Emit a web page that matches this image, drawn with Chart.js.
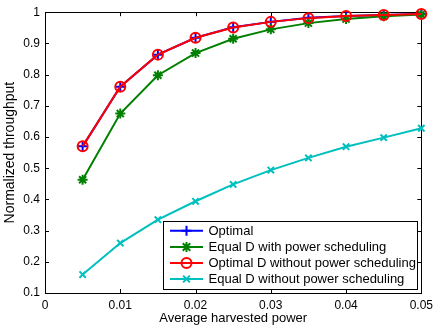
<!DOCTYPE html>
<html><head><meta charset="utf-8">
<script src="https://cdn.jsdelivr.net/npm/chart.js@4"></script>
<style>html,body{margin:0;padding:0;background:#fff}</style>
</head><body>
<canvas id="c" width="438" height="327"></canvas>
<script>
const xValues = [0.005, 0.01, 0.015, 0.02, 0.025, 0.03, 0.035, 0.04, 0.045, 0.05];
const optimal = [0.570, 0.761, 0.864, 0.918, 0.952, 0.969, 0.982, 0.988, 0.991, 0.994];
const equalDWithPS = [0.463, 0.675, 0.798, 0.869, 0.915, 0.945, 0.965, 0.978, 0.987, 0.993];
const optimalDWithoutPS = [0.570, 0.761, 0.864, 0.918, 0.951, 0.969, 0.981, 0.988, 0.991, 0.994];
const equalDWithoutPS = [0.159, 0.260, 0.335, 0.394, 0.448, 0.494, 0.533, 0.569, 0.598, 0.628];
const xTicks = [0, 0.01, 0.02, 0.03, 0.04, 0.05];
const xTickLabels = ['0', '0.01', '0.02', '0.03', '0.04', '0.05'];
const yTicks = [0.1, 0.2, 0.3, 0.4, 0.5, 0.6, 0.7, 0.8, 0.9, 1];
const yTickLabels = ['0.1', '0.2', '0.3', '0.4', '0.5', '0.6', '0.7', '0.8', '0.9', '1'];
const seriesNames = ['Optimal', 'Equal D with power scheduling', 'Optimal D without power scheduling', 'Equal D without power scheduling'];

const FONT = 'Liberation Sans, Arial, Helvetica, sans-serif';
const styles = [
  {color: '#0000ff', point: 'cross', r: 5},
  {color: '#008000', point: 'star', r: 5},
  {color: '#ff0000', point: 'circle', r: 5},
  {color: '#00bfbf', point: 'crossRot', r: 4.5}
];
const seriesData = [optimal, equalDWithPS, optimalDWithoutPS, equalDWithoutPS];
const orders = [3, 2, 1, 0];

function drawMarker(ctx, style, x, y, r, color) {
  ctx.save();
  ctx.strokeStyle = color; ctx.lineWidth = 2;
  ctx.beginPath();
  if (style === 'circle') { ctx.arc(x, y, r, 0, Math.PI * 2); }
  if (style === 'cross' || style === 'star') { ctx.moveTo(x - r, y); ctx.lineTo(x + r, y); ctx.moveTo(x, y - r); ctx.lineTo(x, y + r); }
  if (style === 'crossRot' || style === 'star') { const d = r * 0.75; ctx.moveTo(x - d, y - d); ctx.lineTo(x + d, y + d); ctx.moveTo(x - d, y + d); ctx.lineTo(x + d, y - d); }
  ctx.stroke();
  ctx.restore();
}

const framePlugin = {
  id: 'frame',
  beforeDatasetsDraw(chart) {
    const {ctx, chartArea: a, scales} = chart;
    ctx.save();
    ctx.strokeStyle = '#000'; ctx.lineWidth = 1;
    ctx.strokeRect(Math.round(a.left) + 0.5, Math.round(a.top) + 0.5, Math.round(a.right - a.left), Math.round(a.bottom - a.top));
    ctx.beginPath();
    const L = 4;
    xTicks.forEach(v => {
      const px = Math.round(scales.x.getPixelForValue(v)) + 0.5;
      ctx.moveTo(px, a.bottom); ctx.lineTo(px, a.bottom - L);
      ctx.moveTo(px, a.top); ctx.lineTo(px, a.top + L);
    });
    yTicks.forEach(v => {
      const py = Math.round(scales.y.getPixelForValue(v)) + 0.5;
      ctx.moveTo(a.left, py); ctx.lineTo(a.left + L, py);
      ctx.moveTo(a.right, py); ctx.lineTo(a.right - L, py);
    });
    ctx.stroke();
    ctx.restore();
  },
  afterDraw(chart) {
    const ctx = chart.ctx;
    const bx = 163.5, by = 221.5, bw = 254, bh = 68;
    ctx.save();
    ctx.fillStyle = '#fff'; ctx.fillRect(bx, by, bw, bh);
    ctx.strokeStyle = '#000'; ctx.lineWidth = 1; ctx.strokeRect(bx, by, bw, bh);
    const rows = [230.7, 247, 263, 279];
    seriesNames.forEach((name, i) => {
      const s = styles[i], y = rows[i];
      ctx.strokeStyle = s.color; ctx.lineWidth = 2;
      ctx.beginPath(); ctx.moveTo(170, y); ctx.lineTo(203, y); ctx.stroke();
      drawMarker(ctx, s.point, 186.5, y, s.r, s.color);
      ctx.fillStyle = '#000'; ctx.font = '13px ' + FONT; ctx.textBaseline = 'middle'; ctx.textAlign = 'left';
      ctx.fillText(name, 208.5, y + 0.5);
    });
    ctx.restore();
  }
};

new Chart(document.getElementById('c'), {
  type: 'line',
  data: {
    datasets: seriesNames.map((name, i) => ({
      label: name,
      data: xValues.map((x, j) => ({x: x, y: seriesData[i][j]})),
      borderColor: styles[i].color,
      backgroundColor: 'rgba(0,0,0,0)',
      borderWidth: 2,
      pointStyle: styles[i].point,
      pointRadius: styles[i].r,
      pointBorderWidth: 2,
      pointBorderColor: styles[i].color,
      pointBackgroundColor: 'rgba(0,0,0,0)',
      tension: 0,
      clip: false,
      order: orders[i]
    }))
  },
  options: {
    responsive: false,
    animation: false,
    devicePixelRatio: 1,
    layout: {padding: {top: 11, right: 16, left: 0, bottom: 0}},
    plugins: {legend: {display: false}, tooltip: {enabled: false}},
    scales: {
      x: {
        type: 'linear', min: 0, max: 0.05,
        afterBuildTicks: s => { s.ticks = xTicks.map(v => ({value: v})); },
        afterFit: s => { s.height = 34; },
        grid: {display: false, drawTicks: false},
        border: {display: false},
        ticks: {padding: 5, color: '#000', font: {family: FONT, size: 12}, maxRotation: 0, autoSkip: false,
          callback: (v, i) => xTickLabels[i]},
        title: {display: true, text: 'Average harvested power', color: '#000', font: {family: FONT, size: 13}, padding: {top: 0, bottom: 1}}
      },
      y: {
        type: 'linear', min: 0.1, max: 1,
        afterBuildTicks: s => { s.ticks = yTicks.map(v => ({value: v})); },
        afterFit: s => { s.width = 45; },
        grid: {display: false, drawTicks: false},
        border: {display: false},
        ticks: {padding: 5, color: '#000', font: {family: FONT, size: 12}, autoSkip: false,
          callback: (v, i) => yTickLabels[i]},
        title: {display: true, text: 'Normalized throughput', color: '#000', font: {family: FONT, size: 14}, padding: {top: 2, bottom: 0}}
      }
    }
  },
  plugins: [framePlugin]
});
</script>
</body></html>
